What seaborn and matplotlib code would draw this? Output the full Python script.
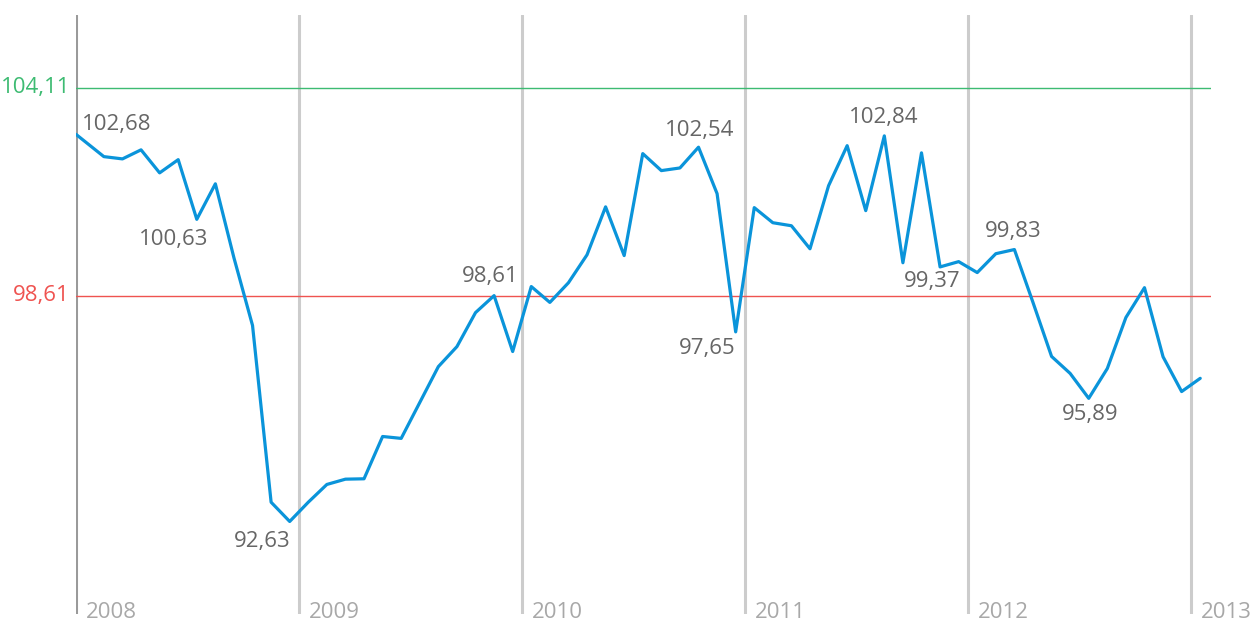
import numpy as np
import pandas as pd
import matplotlib
matplotlib.use("Agg")
import matplotlib.pyplot as plt
import seaborn as sns

sns.set_theme(style="white")
plt.rcParams["font.family"] = ["Open Sans", "DejaVu Sans"]

# monthly index values (first point = start of 2008)
values = [102.88, 102.29, 102.23, 102.47, 101.86, 102.21, 100.63, 101.57, 99.61, 97.82,
          93.14, 92.63, 93.14, 93.61, 93.75, 93.76, 94.88, 94.83, 95.78, 96.73,
          97.26, 98.16, 98.61, 97.13, 98.85, 98.43, 98.95, 99.69, 100.96, 99.67,
          102.37, 101.92, 101.99, 102.54, 101.31, 97.65, 100.94, 100.54, 100.46, 99.85,
          101.52, 102.58, 100.86, 102.84, 99.48, 102.39, 99.37, 99.51, 99.22, 99.72,
          99.83, 98.43, 97.00, 96.55, 95.89, 96.68, 98.03, 98.82, 96.99, 96.07, 96.42]
# months since Jan 2008
months = [0.0] + [1.5 + k for k in range(60)]

years = [2008, 2009, 2010, 2011, 2012, 2013]
max_level = 104.11
avg_level = 98.61

# annotated points: index into values, and the text shown
label_idx = [0, 6, 11, 22, 33, 35, 43, 46, 50, 54]
label_text = ["102,68", "100,63", "92,63", "98,61", "102,54",
              "97,65", "102,84", "99,37", "99,83", "95,89"]

df = pd.DataFrame({"month": months, "value": values})

fig = plt.figure(figsize=(12.52, 6.23), dpi=100)
ax = fig.add_axes([76 / 1252, 9 / 623, 1135 / 1252, 599 / 623])

# year separators
for i, yr in enumerate(years):
    ax.axvline(12 * i, color="#9a9a9a" if i == 0 else "#cccccc",
               lw=2.2, zorder=1)
    ax.annotate(str(yr), xy=(12 * i, 0), xycoords=ax.get_xaxis_transform(),
                xytext=(10, -4), textcoords="offset pixels", ha="left",
                va="baseline", fontsize=16, color="#a8a8a8", annotation_clip=False)

# reference levels
ax.axhline(max_level, color="#3dbb72", lw=1, zorder=2)
ax.axhline(avg_level, color="#ef5350", lw=1, zorder=2)
ax.annotate("104,11", xy=(0, max_level), xytext=(-6, 0), textcoords="offset pixels",
            ha="right", va="center", fontsize=16, color="#3dbb72", annotation_clip=False)
ax.annotate("98,61", xy=(0, avg_level), xytext=(-6, 0), textcoords="offset pixels",
            ha="right", va="center", fontsize=16, color="#ef5350", annotation_clip=False)

sns.lineplot(data=df, x="month", y="value", ax=ax, color="#0a94da",
             linewidth=2.3, zorder=3)

# label placement (pixel offsets from the point)
offsets = [(6, 10), (-23, -20), (-28, -20), (-4, 19), (1, 17),
           (-28, -17), (-1, 18), (-8, -15), (-1, 18), (1, -16)]
for i, txt, off in zip(label_idx, label_text, offsets):
    ax.annotate(txt, xy=(months[i], values[i]), xytext=off, textcoords="offset pixels",
                ha="left" if i == 0 else "center", va="center",
                fontsize=16, color="#666666")

ax.set_xlim(0, 61.08)
ax.set_ylim(90.18, 106.04)
ax.axis("off")

fig.savefig("out.png", dpi=100)
